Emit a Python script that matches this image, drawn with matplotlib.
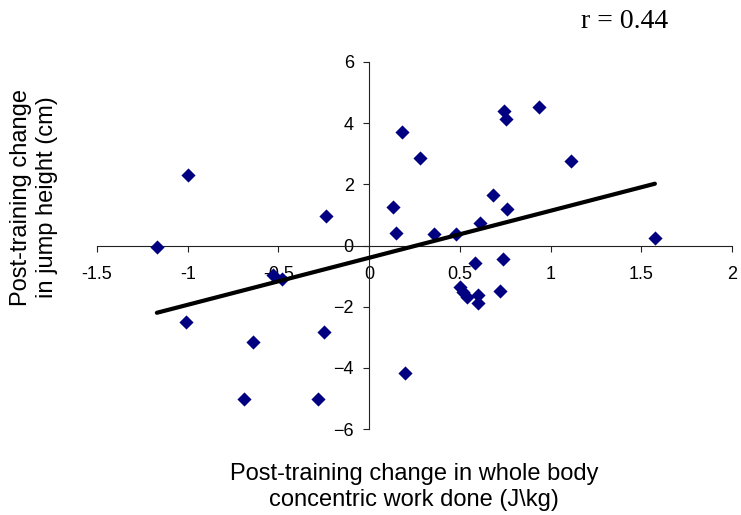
import numpy as np
import matplotlib
matplotlib.use("Agg")
import matplotlib.pyplot as plt

# change in concentric work done (J/kg) vs change in jump height (cm)
work_change = [-1.17, -1.00, -0.24, 0.13, 0.15, 0.18, 0.28, -0.53, -0.48, -1.01,
               -0.64, -0.25, -0.69, -0.28, 0.20, 0.355, 0.48, 0.61, 0.68, 0.76,
               0.745, 0.755, 0.935, 1.11, 1.575, 0.585, 0.74, 0.50, 0.52, 0.54,
               0.60, 0.60, 0.72]
jump_change = [-0.04, 2.31, 0.96, 1.27, 0.42, 3.70, 2.87, -0.97, -1.11, -2.49,
               -3.17, -2.82, -5.01, -5.01, -4.17, 0.38, 0.38, 0.74, 1.64, 1.18,
               4.41, 4.12, 4.52, 2.75, 0.24, -0.58, -0.45, -1.36, -1.52, -1.68,
               -1.63, -1.87, -1.50]
# trend line end points
trend_x = [-1.17, 1.575]
trend_y = [-2.20, 2.02]
x_ticks = [-1.5, -1, -0.5, 0, 0.5, 1, 1.5, 2]
y_ticks = [-6, -4, -2, 0, 2, 4, 6]
r_text = "r = 0.44"

fig = plt.figure(figsize=(7.41, 5.15), dpi=100)
ax = fig.add_axes([97 / 741, 86 / 515, 635 / 741, 367 / 515])

ax.scatter(work_change, jump_change, marker="D", s=52, color="#000080",
           zorder=3, linewidths=0)
ax.plot(trend_x, trend_y, color="black", lw=3, zorder=4, solid_capstyle="round")

ax.set_xlim(-1.5, 2)
ax.set_ylim(-6, 6)
ax.set_xticks(x_ticks)
ax.set_xticklabels([f"{t:g}" for t in x_ticks])
ax.set_yticks(y_ticks)

for side in ["top", "right"]:
    ax.spines[side].set_visible(False)
ax.spines["left"].set_position(("data", 0))
ax.spines["bottom"].set_position(("data", 0))
for side in ["left", "bottom"]:
    ax.spines[side].set_linewidth(0.8)
    ax.spines[side].set_color("#222222")

ax.tick_params(axis="both", direction="out", length=4, width=0.8,
               color="#222222", labelsize=13)
ax.tick_params(axis="x", pad=11)
ax.tick_params(axis="y", pad=7)
for lab in ax.get_xticklabels() + ax.get_yticklabels():
    lab.set_fontfamily("Liberation Sans")

fig.text(414 / 741, 1 - 487 / 515,
         "Post-training change in whole body\nconcentric work done (J\\kg)",
         ha="center", va="center", fontsize=17, family="Liberation Sans",
         linespacing=1.2)
fig.text(34 / 741, 1 - 197 / 515,
         "Post-training change\nin jump height (cm)",
         ha="center", va="center", rotation=90, fontsize=17,
         family="Liberation Sans", linespacing=1.2)
fig.text(625 / 741, 1 - 22 / 515, r_text, ha="center", va="center",
         fontsize=20, family="Liberation Serif")

fig.savefig("out.png", dpi=100)
